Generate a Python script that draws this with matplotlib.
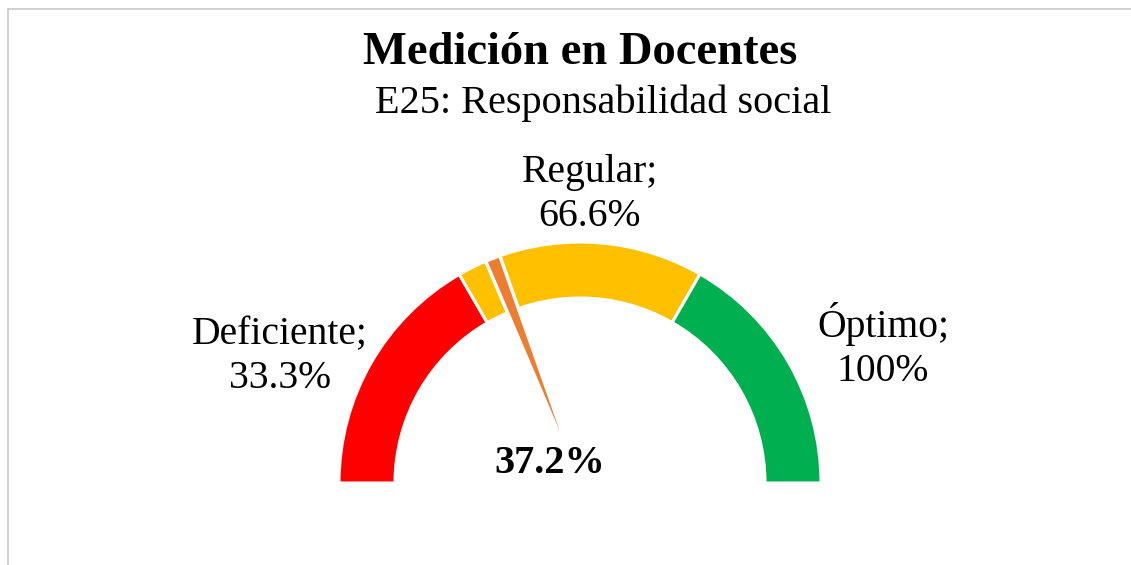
import matplotlib

matplotlib.use("Agg")
import matplotlib.pyplot as plt
from matplotlib.lines import Line2D

# gauge data
bands = ["Deficiente", "Regular", "Óptimo"]
band_limits = [33.3, 66.6, 100.0]
band_colors = ["#FF0000", "#FFC000", "#00B050"]
needle_value = 37.2
needle_width = 2.0

title = "Medición en Docentes"
subtitle = "E25: Responsabilidad social"

plt.rcParams["font.family"] = ["Liberation Serif", "DejaVu Serif"]

W, H = 1131, 565
fig = plt.figure(figsize=(W / 100, H / 100), dpi=100)
ax = fig.add_axes([0, 0, 1, 1])

cx, cy = 580, H - 483
r_out, ring = 241, 56

# band sizes from the cumulative limits, plus a hidden lower half
sizes = [band_limits[0]] + [b - a for a, b in zip(band_limits[:-1], band_limits[1:])]
sizes.append(sum(sizes))
wedges, _ = ax.pie(sizes, colors=band_colors + ["none"], radius=r_out, center=(cx, cy),
                   startangle=180, counterclock=False,
                   wedgeprops=dict(width=ring, edgecolor="white", linewidth=2.2))
wedges[-1].set_visible(False)

# needle as a thin pie slice over a 200-unit full circle
needle_sizes = [needle_value, needle_width, 200 - needle_value - needle_width]
nw, _ = ax.pie(needle_sizes, colors=["none", "#ED7D31", "none"], radius=r_out, center=(cx, cy),
               startangle=180, counterclock=False,
               wedgeprops=dict(edgecolor="white", linewidth=2.5))
nw[0].set_visible(False)
nw[2].set_visible(False)
nw[1].set_zorder(3)

ax.set_xlim(0, W)
ax.set_ylim(0, H)
ax.axis("off")

ax.text(580, H - 64, title, ha="center", va="baseline", fontsize=33.5, fontweight="bold")
ax.text(603, H - 113, subtitle, ha="center", va="baseline", fontsize=29)

# (x, baseline of last line) in pixels from top
label_pos = [(280, 388), (590, 226), (883, 381)]
for name, lim, (x, y) in zip(bands, band_limits, label_pos):
    txt = f"{lim:.1f}%" if lim < 100 else f"{lim:.0f}%"
    ax.text(x, H - y, f"{name};\n{txt}", ha="center", va="baseline", fontsize=28.5, linespacing=1.25)

ax.text(550, H - 473, f"{needle_value:.1f}%", ha="center", va="baseline",
        fontsize=29, fontweight="bold", zorder=5)

# chart area border (top and left edges visible)
fig.add_artist(Line2D([8 / W, 1], [1 - 9 / H, 1 - 9 / H], color="#c8c8c8", lw=1.2))
fig.add_artist(Line2D([8 / W, 8 / W], [0, 1 - 9 / H], color="#c8c8c8", lw=1.2))

fig.savefig("out.png", dpi=100)
plt.close(fig)
